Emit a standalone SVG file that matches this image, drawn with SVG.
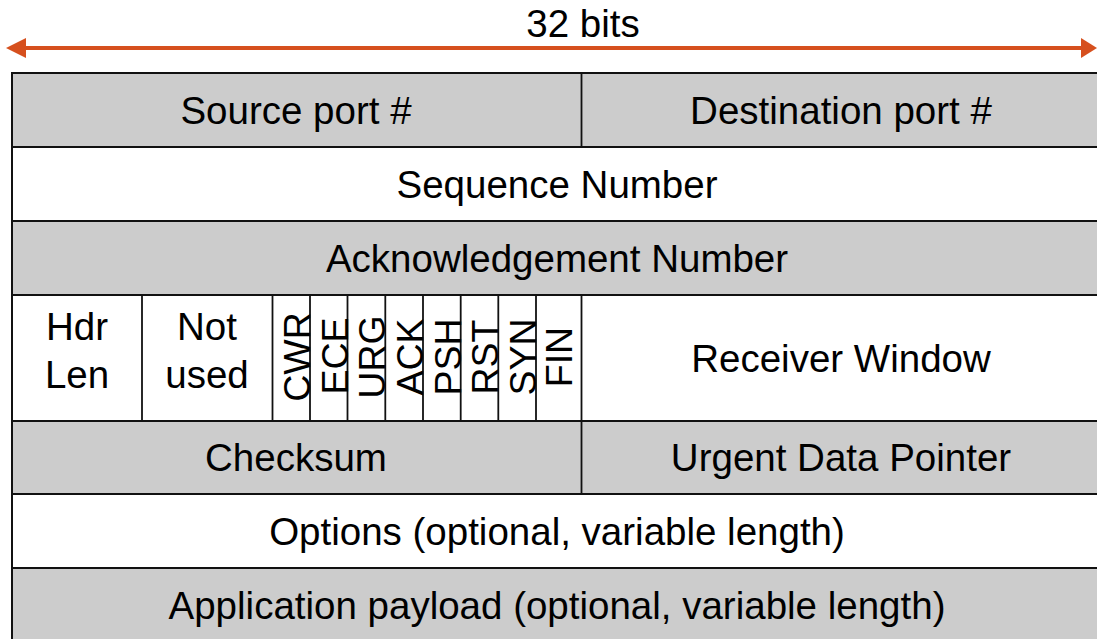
<svg xmlns="http://www.w3.org/2000/svg" width="1097" height="639" viewBox="0 0 1097 639">
<style>
  .g { fill: #cccccc; stroke: #111; stroke-width: 2; }
  .w { fill: #ffffff; stroke: #111; stroke-width: 2; }
  .ln { stroke: #111; stroke-width: 1.8; fill: none; }
  text { font-family: "Liberation Sans", Arial, sans-serif; font-size: 38.5px; fill: #000; }
  .c { text-anchor: middle; }
  .f { font-size: 37.5px; }
  .arrow { stroke: #d6501e; stroke-width: 4; fill: none; }
  .head { fill: #d6501e; }
</style>
<rect width="1097" height="639" fill="#ffffff"/>
<g id="width-arrow">
  <line class="arrow" x1="22" y1="48" x2="1085" y2="48"/>
  <polygon class="head" points="6,48 26,38 26,58"/>
  <polygon class="head" points="1097,48 1081,38 1081,58"/>
  <text class="c" x="583" y="37">32 bits</text>
</g>
<g id="row-ports">
  <rect class="g" x="12" y="73" width="1090" height="74"/>
  <line class="ln" x1="581.5" y1="73" x2="581.5" y2="147"/>
  <text class="c" x="296" y="124">Source port #</text>
  <text class="c" x="841" y="124">Destination port #</text>
</g>
<g id="row-seq">
  <rect class="w" x="12" y="147" width="1090" height="74"/>
  <text class="c" x="557" y="198">Sequence Number</text>
</g>
<g id="row-ack">
  <rect class="g" x="12" y="221" width="1090" height="74"/>
  <text class="c" x="557" y="272">Acknowledgement Number</text>
</g>
<g id="row-flags">
  <rect class="w" x="12" y="295" width="1090" height="126"/>
  <line class="ln" x1="142" y1="295" x2="142" y2="421"/>
  <line class="ln" x1="272.5" y1="295" x2="272.5" y2="421"/>
  <line class="ln" x1="310" y1="295" x2="310" y2="421"/>
  <line class="ln" x1="347.5" y1="295" x2="347.5" y2="421"/>
  <line class="ln" x1="385.3" y1="295" x2="385.3" y2="421"/>
  <line class="ln" x1="423" y1="295" x2="423" y2="421"/>
  <line class="ln" x1="460.7" y1="295" x2="460.7" y2="421"/>
  <line class="ln" x1="498.3" y1="295" x2="498.3" y2="421"/>
  <line class="ln" x1="536" y1="295" x2="536" y2="421"/>
  <line class="ln" x1="581.5" y1="295" x2="581.5" y2="421"/>
  <text class="c" x="77" y="340">Hdr</text>
  <text class="c" x="77" y="388">Len</text>
  <text class="c" x="207" y="340">Not</text>
  <text class="c" x="207" y="388">used</text>
  <text class="c f" transform="translate(310,357) rotate(-90)">CWR</text>
  <text class="c f" transform="translate(347.5,356) rotate(-90)">ECE</text>
  <text class="c f" transform="translate(385,357) rotate(-90)">URG</text>
  <text class="c f" transform="translate(423,357) rotate(-90)">ACK</text>
  <text class="c f" transform="translate(460.5,357) rotate(-90)">PSH</text>
  <text class="c f" transform="translate(498,357) rotate(-90)">RST</text>
  <text class="c f" transform="translate(535.5,357) rotate(-90)">SYN</text>
  <text class="c f" transform="translate(572,357) rotate(-90)">FIN</text>
  <text class="c" x="841" y="372">Receiver Window</text>
</g>
<g id="row-checksum">
  <rect class="g" x="12" y="421" width="1090" height="73"/>
  <line class="ln" x1="581.5" y1="421" x2="581.5" y2="494"/>
  <text class="c" x="296" y="471">Checksum</text>
  <text class="c" x="841" y="471">Urgent Data Pointer</text>
</g>
<g id="row-options">
  <rect class="w" x="12" y="494" width="1090" height="74"/>
  <text class="c" x="557" y="545">Options (optional, variable length)</text>
</g>
<g id="row-payload">
  <rect class="g" x="12" y="568" width="1090" height="80"/>
  <text class="c" x="557" y="619">Application payload (optional, variable length)</text>
</g>
</svg>
